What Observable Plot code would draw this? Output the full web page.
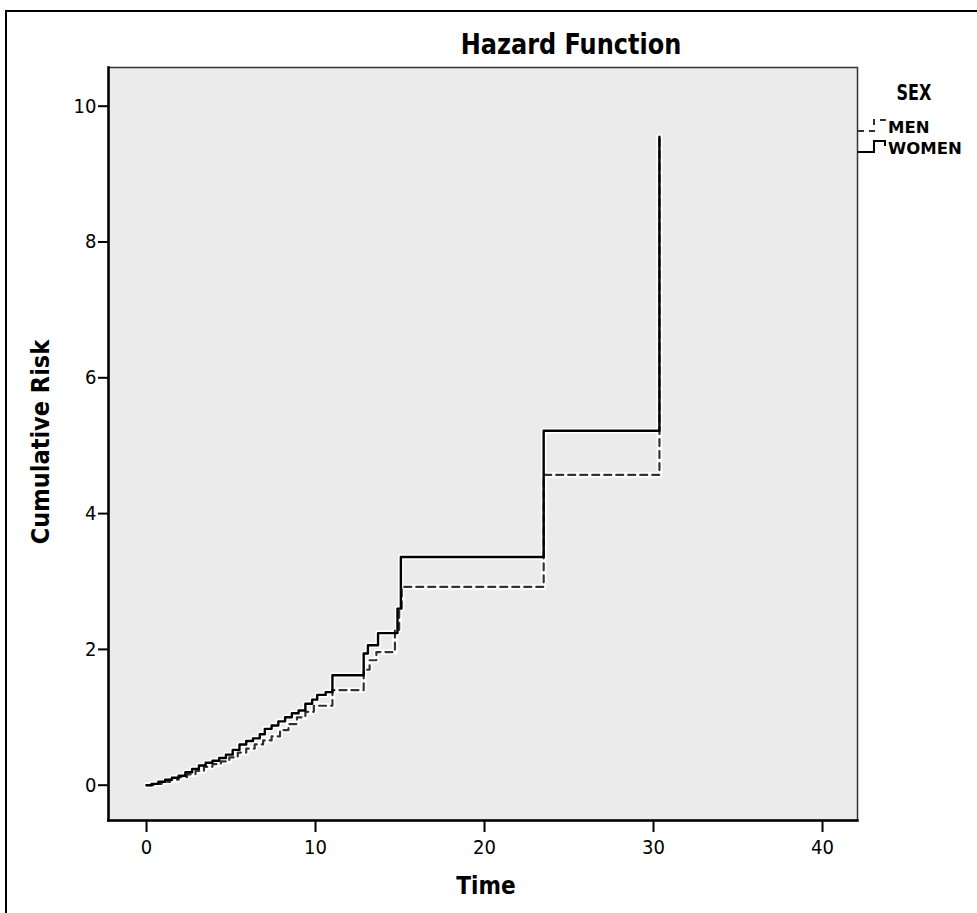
<!DOCTYPE html>
<html>
<head>
<meta charset="utf-8">
<script src="https://cdn.jsdelivr.net/npm/d3@7"></script>
<script src="https://cdn.jsdelivr.net/npm/@observablehq/plot@0.6"></script>
<style>
  html, body { margin: 0; padding: 0; background: #fff; }
  #wrap { position: relative; width: 977px; height: 913px; overflow: hidden; font-family: "DejaVu Sans Condensed", "Liberation Sans Narrow", sans-serif; }
  #border { position: absolute; left: 5px; top: 10px; width: 1200px; height: 1200px; border-left: 2px solid #000; border-top: 2px solid #000; }
  .lab { position: absolute; color: #000; white-space: nowrap; font-weight: bold; }
  #chart { position: absolute; left: 0; top: 0; }
</style>
</head>
<body>
<div id="wrap">
  <div id="border"></div>
  <div id="chart"></div>
  <div class="lab" id="title" style="left:571px; top:44px; transform:translate(-50%,-50%) scaleX(0.92); font-size:29px;">Hazard Function</div>
  <div class="lab" id="xlab" style="left:486px; top:886px; transform:translate(-50%,-50%); font-size:24px;">Time</div>
  <div class="lab" id="ylab" style="left:40px; top:442px; transform:translate(-50%,-50%) rotate(-90deg); font-size:25px;">Cumulative Risk</div>
  <div class="lab" id="legtitle" style="left:914px; top:93px; transform:translate(-50%,-50%) scaleX(0.85); font-size:21px; font-weight:600;">SEX</div>
  <div id="legend" style="position:absolute; left:856px; top:112px;"></div>
</div>
<script>
// ---- data ----
const groups = ["MEN", "WOMEN"];
const menTime = [0, 0.4, 0.9, 1.4, 1.9, 2.4, 2.9, 3.4, 3.9, 4.4, 4.9, 5.4, 5.9, 6.4, 6.9, 7.4, 7.9, 8.4, 8.9, 9.4, 9.9, 11.0, 12.85, 13.2, 13.6, 14.7, 14.95, 15.1, 23.5, 30.35];
const menRisk = [0, 0.02, 0.05, 0.08, 0.12, 0.16, 0.21, 0.27, 0.31, 0.35, 0.41, 0.48, 0.54, 0.60, 0.66, 0.72, 0.81, 0.90, 1.00, 1.08, 1.17, 1.40, 1.70, 1.84, 1.96, 2.28, 2.60, 2.92, 4.57, 9.55];
const womenTime = [0, 0.3, 0.7, 1.1, 1.5, 1.9, 2.3, 2.7, 3.1, 3.5, 3.9, 4.3, 4.7, 5.1, 5.5, 5.9, 6.3, 6.7, 7.0, 7.4, 7.8, 8.2, 8.6, 9.0, 9.4, 9.8, 10.1, 10.6, 11.0, 12.85, 13.1, 13.7, 14.85, 15.05, 23.5, 30.35];
const womenRisk = [0, 0.02, 0.05, 0.08, 0.11, 0.14, 0.19, 0.24, 0.29, 0.33, 0.36, 0.40, 0.45, 0.52, 0.60, 0.65, 0.69, 0.75, 0.83, 0.88, 0.94, 1.00, 1.06, 1.10, 1.20, 1.26, 1.33, 1.37, 1.62, 1.94, 2.06, 2.24, 2.60, 3.36, 5.22, 9.55];
const xTicks = [0, 10, 20, 30, 40];
const yTicks = [0, 2, 4, 6, 8, 10];

const men = menTime.map((t, i) => ({time: t, risk: menRisk[i], sex: groups[0]}));
const women = womenTime.map((t, i) => ({time: t, risk: womenRisk[i], sex: groups[1]}));

const font = "'DejaVu Sans Condensed','Liberation Sans Narrow',sans-serif";
const chart = Plot.plot({
  width: 977,
  height: 913,
  marginLeft: 108,
  marginRight: 120,
  marginTop: 67,
  marginBottom: 93,
  style: {fontFamily: font, fontSize: "20px", color: "#000", background: "transparent", overflow: "visible"},
  x: {domain: [-2.25, 42.07], label: null},
  y: {domain: [-0.52, 10.57], label: null},
  marks: [
    Plot.frame({fill: "#ebebeb", stroke: "#333", strokeWidth: 1.5}),
    Plot.axisX({ticks: xTicks, tickSize: 12, tickPadding: 7, strokeWidth: 2, fontSize: 20, label: null}),
    Plot.axisY({ticks: yTicks, tickSize: 10, tickPadding: 2, strokeWidth: 2, fontSize: 20, label: null}),
    Plot.frame({anchor: "bottom", stroke: "#000", strokeWidth: 2.5}),
    Plot.frame({anchor: "left", stroke: "#000", strokeWidth: 2.5}),
    // white halos
    Plot.line(men, {x: "time", y: "risk", curve: "step-after", stroke: "#fff", strokeWidth: 5.5}),
    Plot.line(women, {x: "time", y: "risk", curve: "step-after", stroke: "#fff", strokeWidth: 5.5}),
    Plot.line(men, {x: "time", y: "risk", curve: "step-after", stroke: "#333", strokeWidth: 2.2, strokeDasharray: "7,5"}),
    Plot.line(women, {x: "time", y: "risk", curve: "step-after", stroke: "#000", strokeWidth: 2.4})
  ]
});
document.getElementById("chart").appendChild(chart);

// legend
const leg = d3.select("#legend").append("svg").attr("width", 121).attr("height", 50)
  .style("overflow", "visible");
const items = [
  {label: groups[0], dash: "6,5", stroke: "#333", y: 15},
  {label: groups[1], dash: null, stroke: "#000", y: 36}
];
items.forEach(it => {
  leg.append("path")
    .attr("d", `M2,${it.y + 4} H18 V${it.y - 7} H29 V${it.y - 2}`)
    .attr("fill", "none").attr("stroke", it.stroke).attr("stroke-width", 2)
    .attr("stroke-dasharray", it.dash);
  leg.append("text").attr("x", 32).attr("y", it.y + 1).attr("dominant-baseline", "middle")
    .attr("font-size", 16.5).attr("font-weight", "bold")
    .attr("font-family", "'DejaVu Sans', sans-serif")
    .text(it.label);
});
</script>
</body>
</html>
